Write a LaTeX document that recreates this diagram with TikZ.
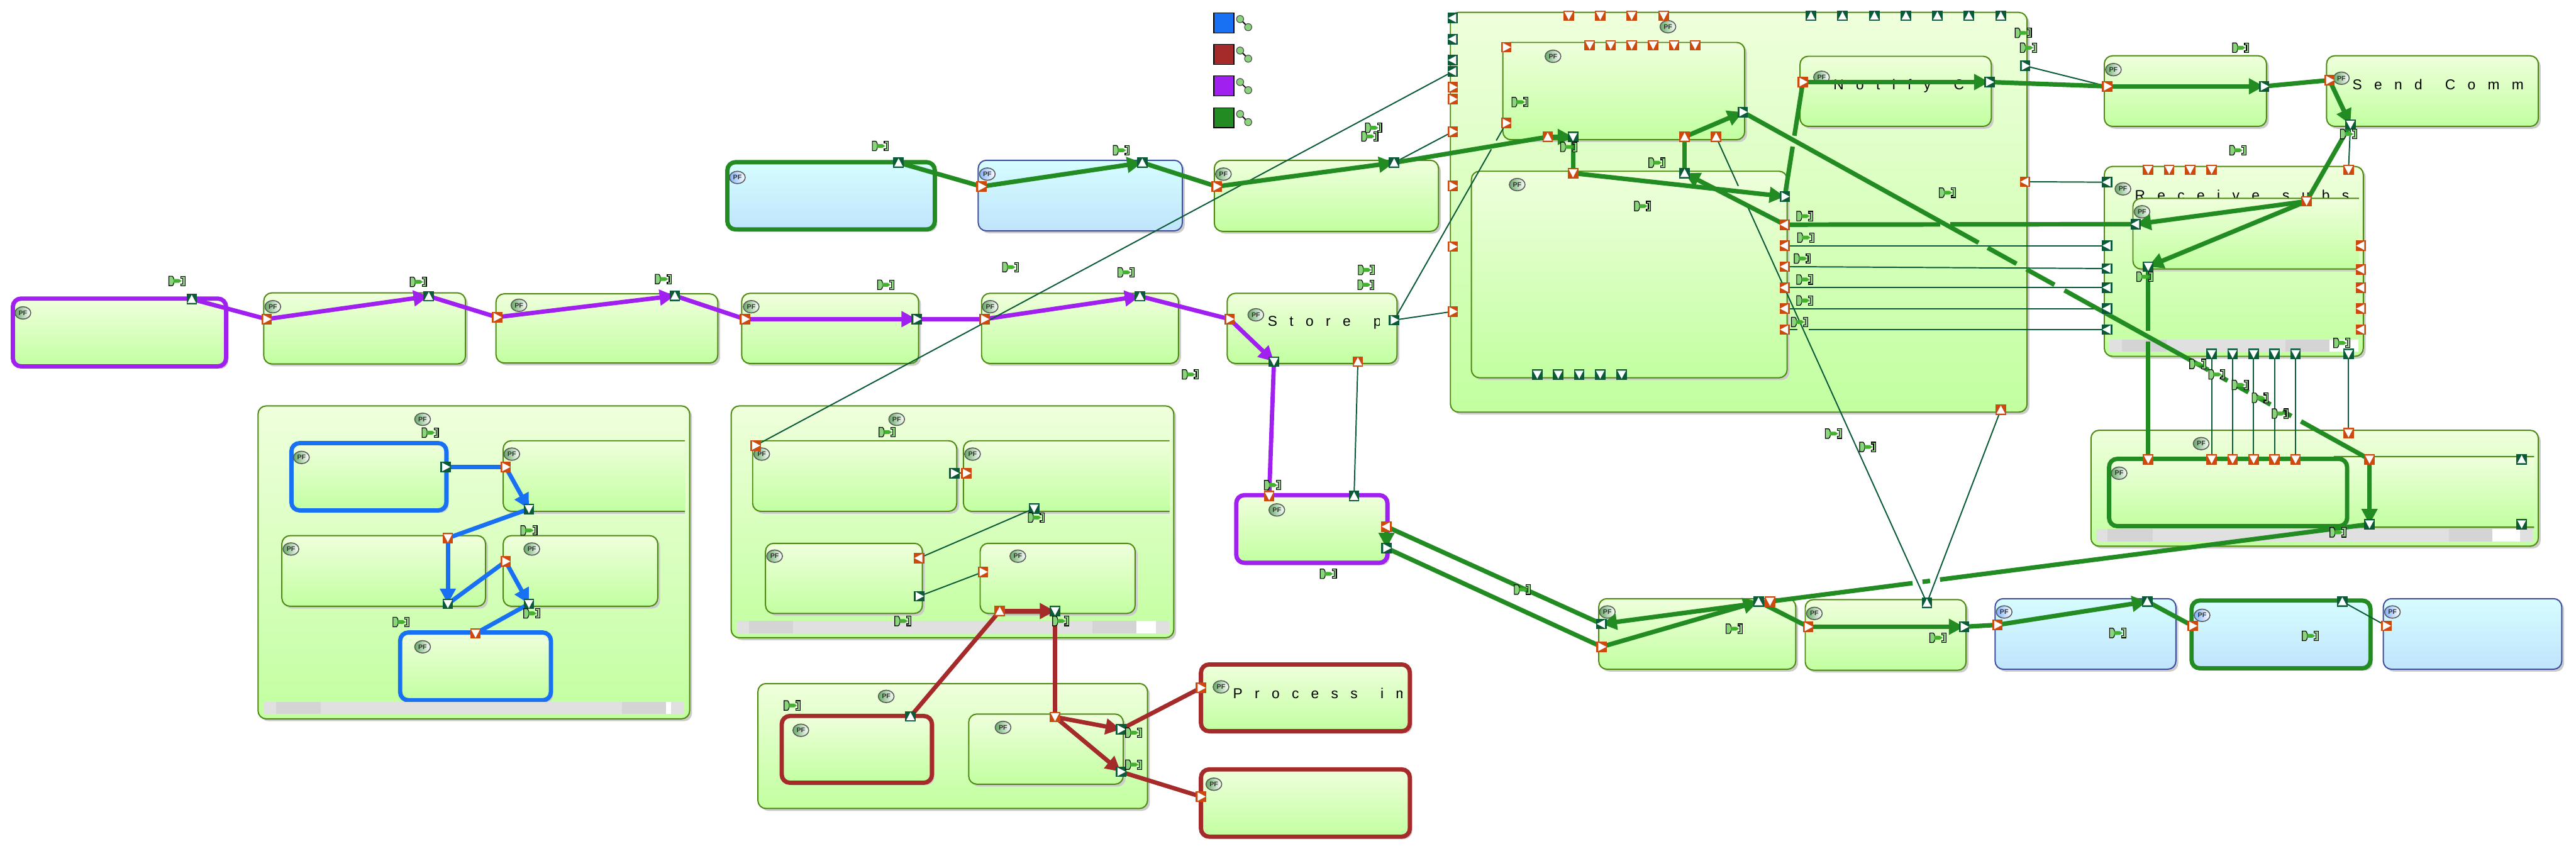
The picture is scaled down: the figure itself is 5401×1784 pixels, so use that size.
\documentclass[tikz,border=0pt]{standalone}
\usepackage{fontspec}
\setmainfont{Liberation Sans}
\newfontfamily\spfont[LetterSpace=85]{Liberation Sans}
\usetikzlibrary{arrows.meta,shadows,shapes.geometric}
\definecolor{cO}{HTML}{CC4A0E}
\definecolor{cG}{HTML}{0B5B38}
\definecolor{thG}{HTML}{228B22}
\definecolor{thB}{HTML}{1871F2}
\definecolor{thP}{HTML}{A020F0}
\definecolor{thR}{HTML}{A52A2A}
\definecolor{gTop}{HTML}{EFFFDC}
\definecolor{gBot}{HTML}{C2FFA0}
\definecolor{gEdge}{HTML}{4E8A12}
\definecolor{bTop}{HTML}{D6FDFF}
\definecolor{bBot}{HTML}{C0E4FC}
\definecolor{bEdge}{HTML}{3F4E9F}
\definecolor{lGreen}{HTML}{8AD47C}
\definecolor{mGreen}{HTML}{44B030}
\pgfdeclarelayer{bg}\pgfdeclarelayer{conn}\pgfsetlayers{bg,conn,main}
\tikzset{
 base/.style={rectangle,rounded corners=17pt,inner sep=0pt,outer sep=0pt,general shadow={fill=black!20,shadow xshift=5pt,shadow yshift=-5pt}},
 gbox/.style={base,top color=gTop,bottom color=gBot,draw=gEdge,line width=2.6pt},
 bbox/.style={base,top color=bTop,bottom color=bBot,draw=bEdge,line width=2.6pt},
 thk/.style={line width=9pt,draw=#1},
 port/.style={rectangle,inner sep=0pt,outer sep=0pt,minimum size=22pt},
 pfg/.style={ellipse,inner sep=0pt,minimum width=33pt,minimum height=26pt,draw=black!65,line width=2pt,left color=#1,right color=white,font=\bfseries\fontsize{14}{14}\selectfont,text=black!80},
 txt/.style={inner sep=0pt,anchor=base west,font=\spfont\fontsize{30}{36}\selectfont},
 leg/.style={rectangle,inner sep=0pt,draw=black,line width=2pt,minimum width=42pt,minimum height=42pt},
 lg/.style={draw=thG,line width=9.5pt},
 lb/.style={draw=thB,line width=9pt},
 lp/.style={draw=thP,line width=9pt},
 lr/.style={draw=thR,line width=9pt},
 lt/.style={draw=cG,line width=2.6pt},
 tip/.style={-{Triangle[length=32pt,width=32pt]}},
 trir/.pic={\fill[white] (-7,-9) -- (-7,9) -- (10,0) -- cycle;},
 tril/.pic={\fill[white] (7,-9) -- (7,9) -- (-10,0) -- cycle;},
 triu/.pic={\fill[white] (-9,8) -- (9,8) -- (0,-9) -- cycle;},
 trid/.pic={\fill[white] (-9,-8) -- (9,-8) -- (0,9) -- cycle;},
 lbl/.pic={
  \filldraw[fill=lGreen,draw=black,line width=1.5pt] (-17,-10) -- (-10,-10) .. controls (-5,-8) and (-5,8) .. (-10,10) -- (-17,10) -- cycle;
  \filldraw[fill=lGreen,draw=black,line width=1.5pt] (8,-10) -- (17,-10) -- (17,10) -- (8,10) -- (8,6) -- (12,6) -- (12,-6) -- (8,-6) -- cycle;
  \fill[mGreen] (-7,-4) -- (4,-4) -- (10,0) -- (4,4) -- (-7,4) -- cycle;},
 lnk/.pic={
  \draw[black,line width=2.5pt] (0,0) -- (17,17);
  \filldraw[fill=lGreen,draw=black!70,line width=1.5pt] (0,0) circle (7.5pt);
  \filldraw[fill=lGreen,draw=black!70,line width=1.5pt] (17,17) circle (7.5pt);},
}
\newcommand\mybox[6]{\pgfmathsetmacro\bw{#4-#2}\pgfmathsetmacro\bh{#5-#3}\node[#6,minimum width=\bw pt,minimum height=\bh pt,anchor=north west] (#1) at (#2,#3) {};}
\newcommand\myport[5]{\node[port,fill=c#4] (#1) at (#2,#3) {};\pic at (#1.center) {tri#5};}
\newcommand\mypf[3]{\node[pfg=green!45!black!60!white] (#1) at (#2,#3) {PF};}
\newcommand\mypb[3]{\node[pfg=blue!60!cyan!50!white] (#1) at (#2,#3) {PF};}
\newcommand\mylab[2]{\pic at (#1,#2) {lbl};}
\newcommand\mybar[9]{\fill[black!12] (#1,#2) rectangle (#3,#4);\fill[black!17] (#5,#2) rectangle (#6,#4);\fill[black!17] (#7,#2) rectangle (#8,#4);\fill[white] (#8,#2) rectangle (#9,#4);}
\newcommand\wgap{\hspace{14pt}}
\begin{document}
\begin{tikzpicture}[x=1pt,y=-1pt]
\useasboundingbox (0,0) rectangle (5401,1784);
\begin{pgfonlayer}{bg}
\fill[white] (0,0) rectangle (5401,1784);
% chain row
\mybox{Ba}{27}{626}{474}{768}{gbox,thk=thP}\mypf{Fa}{48}{656}
\mybox{Bb}{553}{614}{976}{763}{gbox}\mypf{Fb}{572}{643}
\mybox{Bc}{1040}{616}{1505}{761}{gbox}\mypf{Fc}{1088}{640}
\mybox{Bd}{1555}{615}{1926}{762}{gbox}\mypf{Fd}{1575}{643}
\mybox{Be}{2058}{615}{2471}{762}{gbox}\mypf{Fe}{2076}{643}
\mybox{Bf}{2573}{615}{2929}{762}{gbox}\mypf{Ff}{2633}{660}
\begin{scope}\clip (2650,640) rectangle (2892,720);\node[txt] (Tf) at (2658,684) {Store\wgap{} pro};\end{scope}
% top row
\mybox{Bg}{1525}{340}{1960}{481}{bbox,thk=thG}\mypb{Fg}{1546}{372}
\mybox{Bh}{2051}{336}{2479}{484}{bbox}\mypb{Fh}{2070}{365}
\mybox{Bi}{2546}{336}{3016}{485}{gbox}\mypf{Fi}{2565}{365}
% large block
\mybox{Bj}{3041}{26}{4250}{864}{gbox}\mypf{Fj}{3497}{56}
\mybox{Bk}{3151}{89}{3658}{293}{gbox}\mypf{Fk}{3256}{118}
\mybox{Bl}{3085}{359}{3747}{792}{gbox}\mypf{Fl}{3181}{387}
\mybox{Bm}{3774}{118}{4175}{265}{gbox}\mypf{Fm}{3819}{162}
\begin{scope}\clip (3830,150) rectangle (4136,210);\node[txt] (Tm) at (3844,188) {Notify\wgap{} Comm};\end{scope}
% right column
\mybox{Bn}{4412}{117}{4752}{265}{gbox}\mypf{Fn}{4431}{146}
\mybox{Bo}{4878}{117}{5322}{265}{gbox}\mypf{Fo}{4909}{164}
\begin{scope}\clip (4925,150) rectangle (5312,210);\node[txt] (To) at (4932,188) {Send\wgap{} Comms};\end{scope}
\mybox{Bp}{4412}{349}{4955}{747}{gbox}\mypf{Fp}{4451}{396}
\begin{scope}\clip (4470,390) rectangle (4946,440);\node[txt] (Tp) at (4476,420) {Receive\wgap{} subsyst};\end{scope}
\begin{scope}\clip (4460,400) rectangle (4946,580);\mybox{Bq}{4472}{416}{5010}{564}{gbox}\end{scope}
\mypf{Fq}{4491}{444}
\mybar{4423}{712}{4945}{737}{4449}{4542}{4792}{4884}{4945}
\mybox{Br}{4384}{902}{5322}{1145}{gbox}\mypf{Fr}{4615}{930}
\begin{scope}\clip (4893,950) rectangle (5313,1108);\mybox{Bs}{4860}{957}{5400}{1105}{gbox}\end{scope}
\mybox{Bt}{4422}{962}{4921}{1103}{gbox,thk=thG}\mypf{Ft}{4443}{992}
\mybar{4395}{1109}{5310}{1135}{4419}{4513}{5134}{5226}{5283}
% bottom row right
\mybox{Bu}{3352}{1255}{3765}{1403}{gbox}\mypf{Fu}{3370}{1283}
\mybox{Bv}{3785}{1257}{4122}{1405}{gbox}\mypf{Fv}{3804}{1286}
\mybox{Bw}{4183}{1255}{4562}{1403}{bbox}\mypb{Fw}{4202}{1283}
\mybox{Bx}{4595}{1259}{4970}{1401}{bbox,thk=thG}\mypb{Fx}{4617}{1290}
\mybox{By}{4997}{1255}{5371}{1403}{bbox}\mypb{Fy}{5016}{1283}
% centre
\mybox{Bz}{2592}{1038}{2909}{1180}{gbox,thk=thP}\mypf{Fz}{2677}{1069}
\mybox{Ca}{2518}{1393}{2956}{1533}{gbox,thk=thR}\mypf{Ga}{2560}{1440}
\begin{scope}\clip (2575,1430) rectangle (2940,1480);\node[txt] (Ta) at (2585,1464) {Process\wgap{} ima};\end{scope}
\mybox{Cb}{2518}{1613}{2956}{1754}{gbox,thk=thR}\mypf{Gb}{2545}{1644}
% package 2
\mybox{Cc}{1533}{851}{2461}{1337}{gbox}\mypf{Gc}{1880}{879}
\mybox{Cd}{1578}{924}{2006}{1072}{gbox}\mypf{Gd}{1597}{952}
\begin{scope}\clip (2010,915) rectangle (2452,1085);\mybox{Ce}{2020}{924}{2620}{1072}{gbox}\end{scope}
\mypf{Ge}{2039}{952}
\mybox{Cf}{1605}{1139}{1934}{1286}{gbox}\mypf{Gf}{1624}{1166}
\mybox{Cg}{2055}{1139}{2380}{1286}{gbox}\mypf{Gg}{2134}{1166}
\mybar{1545}{1302}{2451}{1328}{1571}{1663}{2291}{2383}{2423}
\mybox{Ch}{1589}{1433}{2406}{1695}{gbox}\mypf{Gh}{1858}{1460}
\mybox{Ci}{1639}{1501}{1954}{1641}{gbox,thk=thR}\mypf{Gi}{1679}{1531}
\mybox{Cj}{2031}{1497}{2355}{1644}{gbox}\mypf{Gj}{2103}{1525}
% package 1
\mybox{Ck}{541}{851}{1446}{1507}{gbox}\mypf{Gk}{886}{879}
\mybox{Cl}{611}{929}{936}{1070}{gbox,thk=thB}\mypf{Gl}{632}{959}
\begin{scope}\clip (1045,915) rectangle (1436,1085);\mybox{Cm}{1055}{924}{1600}{1072}{gbox}\end{scope}
\mypf{Gm}{1073}{952}
\mybox{Cn}{591}{1123}{1018}{1271}{gbox}\mypf{Gn}{610}{1151}
\mybox{Co}{1055}{1123}{1379}{1271}{gbox}\mypf{Go}{1115}{1151}
\mybox{Cp}{839}{1326}{1155}{1468}{gbox,thk=thB}\mypf{Gp}{886}{1356}
\mybar{552}{1471}{1435}{1497}{579}{672}{1304}{1396}{1407}
\end{pgfonlayer}
% legend
\node[leg,fill=thB] (L1) at (2566,48) {};\pic at (2600,40) {lnk};
\node[leg,fill=thR] (L2) at (2566,114) {};\pic at (2600,106) {lnk};
\node[leg,fill=thP] (L3) at (2566,180) {};\pic at (2600,172) {lnk};
\node[leg,fill=thG] (L4) at (2566,247) {};\pic at (2600,239) {lnk};
% ports
\myport{a1}{402}{627}{G}{u}
\myport{b1}{559}{669}{O}{r}\myport{b2}{899}{621}{G}{u}
\myport{c1}{1042}{665}{O}{r}\myport{c2}{1415}{620}{G}{u}
\myport{d1}{1562}{669}{O}{r}\myport{d2}{1922}{669}{G}{r}
\myport{e1}{2064}{669}{O}{r}\myport{e2}{2390}{621}{G}{u}
\myport{f1}{2578}{669}{O}{r}\myport{f2}{2923}{671}{G}{r}\myport{f3}{2671}{758}{G}{d}\myport{f4}{2847}{758}{O}{u}
\myport{g1}{1884}{341}{G}{u}
\myport{h1}{2058}{391}{O}{r}\myport{h2}{2395}{341}{G}{u}
\myport{i1}{2551}{391}{O}{r}\myport{i2}{2923}{341}{G}{u}
% block j
\myport{j1}{3046}{38}{G}{l}\myport{j2}{3046}{82}{G}{l}\myport{j3}{3046}{126}{G}{l}\myport{j4}{3046}{150}{G}{l}
\myport{j5}{3046}{183}{O}{r}\myport{j6}{3046}{208}{O}{r}\myport{j7}{3046}{276}{O}{r}\myport{j8}{3046}{390}{O}{r}\myport{j9}{3046}{517}{O}{r}\myport{j10}{3046}{653}{O}{r}
\myport{jt1}{3289}{33}{O}{d}\myport{jt2}{3355}{33}{O}{d}\myport{jt3}{3421}{33}{O}{d}\myport{jt4}{3488}{33}{O}{d}
\myport{ju1}{3797}{33}{G}{u}\myport{ju2}{3863}{33}{G}{u}\myport{ju3}{3930}{33}{G}{u}\myport{ju4}{3996}{33}{G}{u}\myport{ju5}{4062}{33}{G}{u}\myport{ju6}{4128}{33}{G}{u}\myport{ju7}{4195}{33}{G}{u}
\myport{jr1}{4246}{138}{G}{r}\myport{jr2}{4246}{381}{O}{l}\myport{jb1}{4195}{859}{O}{u}
% block k
\myport{k1}{3158}{99}{O}{r}\myport{k2}{3158}{258}{O}{r}
\myport{kt1}{3333}{95}{O}{d}\myport{kt2}{3377}{95}{O}{d}\myport{kt3}{3421}{95}{O}{d}\myport{kt4}{3466}{95}{O}{d}\myport{kt5}{3510}{95}{O}{d}\myport{kt6}{3554}{95}{O}{d}
\myport{kb1}{3245}{287}{O}{u}\myport{kb2}{3298}{287}{G}{d}\myport{kb3}{3532}{287}{O}{u}\myport{kb4}{3598}{287}{O}{u}\myport{kr}{3654}{235}{G}{r}
% block l
\myport{l1}{3298}{363}{O}{d}\myport{l2}{3532}{363}{G}{u}\myport{lg1}{3742}{412}{G}{r}
\myport{lo1}{3742}{471}{O}{l}\myport{lo2}{3742}{515}{O}{l}\myport{lo3}{3742}{559}{O}{l}\myport{lo4}{3742}{603}{O}{l}\myport{lo5}{3742}{647}{O}{l}\myport{lo6}{3742}{691}{O}{l}
\myport{ld1}{3223}{785}{G}{d}\myport{ld2}{3267}{785}{G}{d}\myport{ld3}{3311}{785}{G}{d}\myport{ld4}{3355}{785}{G}{d}\myport{ld5}{3400}{785}{G}{d}
% m n o
\myport{m1}{3780}{172}{O}{r}\myport{m2}{4171}{172}{G}{r}
\myport{n1}{4418}{181}{O}{r}\myport{n2}{4747}{181}{G}{r}
\myport{o1}{4884}{168}{O}{r}\myport{o2}{4928}{261}{G}{d}
% block p
\myport{pt1}{4504}{356}{O}{d}\myport{pt2}{4548}{356}{O}{d}\myport{pt3}{4592}{356}{O}{d}\myport{pt4}{4637}{356}{O}{d}\myport{pt5}{4924}{356}{O}{d}
\myport{pl0}{4418}{382}{G}{l}\myport{pl1}{4418}{515}{G}{l}\myport{pl2}{4418}{563}{G}{l}\myport{pl3}{4418}{603}{G}{l}\myport{pl4}{4418}{647}{G}{l}\myport{pl5}{4418}{691}{G}{l}
\myport{pr1}{4950}{515}{O}{l}\myport{pr2}{4950}{565}{O}{l}\myport{pr3}{4950}{603}{O}{l}\myport{pr4}{4950}{647}{O}{l}\myport{pr5}{4950}{691}{O}{l}
\myport{pb1}{4637}{742}{G}{d}\myport{pb2}{4681}{742}{G}{d}\myport{pb3}{4725}{742}{G}{d}\myport{pb4}{4769}{742}{G}{d}\myport{pb5}{4813}{742}{G}{d}\myport{pb6}{4924}{742}{G}{d}
\myport{q1}{4836}{422}{O}{d}\myport{q2}{4478}{470}{G}{l}\myport{q3}{4504}{559}{G}{d}
% block r
\myport{r0}{4924}{908}{O}{d}
\myport{r1}{4504}{963}{O}{d}\myport{r2}{4637}{963}{O}{d}\myport{r3}{4681}{963}{O}{d}\myport{r4}{4725}{963}{O}{d}\myport{r5}{4769}{963}{O}{d}\myport{r6}{4813}{963}{O}{d}\myport{r7}{4968}{963}{O}{d}
\myport{r8}{5287}{963}{G}{u}\myport{r9}{4968}{1099}{G}{d}\myport{r10}{5287}{1099}{G}{d}
% bottom row
\myport{u1}{3358}{1308}{G}{l}\myport{u2}{3358}{1356}{O}{r}\myport{u3}{3687}{1261}{G}{u}\myport{u4}{3711}{1261}{O}{d}
\myport{v1}{3791}{1314}{O}{r}\myport{v2}{4118}{1314}{G}{r}\myport{v3}{4040}{1264}{G}{u}
\myport{w1}{4188}{1310}{O}{r}\myport{w2}{4502}{1261}{G}{u}
\myport{x1}{4597}{1312}{O}{r}\myport{x2}{4911}{1261}{G}{u}
\myport{y1}{5003}{1312}{O}{r}
\myport{z1}{2661}{1040}{O}{d}\myport{z2}{2839}{1040}{G}{u}\myport{z3}{2907}{1104}{O}{l}\myport{z4}{2907}{1149}{G}{r}
\myport{ca}{2518}{1442}{O}{r}\myport{cb}{2518}{1670}{O}{r}
% package 2
\myport{d21}{1584}{934}{O}{r}\myport{d22}{2001}{992}{G}{r}
\myport{e21}{2026}{992}{O}{r}\myport{e22}{2168}{1066}{G}{d}
\myport{f21}{1927}{1170}{O}{l}\myport{f22}{1927}{1250}{G}{r}
\myport{g21}{2061}{1199}{O}{r}\myport{g22}{2096}{1281}{O}{u}\myport{g23}{2212}{1281}{G}{d}
\myport{i21}{1909}{1502}{G}{u}
\myport{j21}{2212}{1503}{O}{d}\myport{j22}{2350}{1529}{G}{r}\myport{j23}{2350}{1618}{G}{r}
% package 1
\myport{l11}{934}{979}{G}{r}
\myport{m11}{1060}{979}{O}{r}\myport{m12}{1109}{1067}{G}{d}
\myport{n11}{939}{1128}{O}{d}\myport{n12}{939}{1266}{G}{d}
\myport{o11}{1060}{1177}{O}{r}\myport{o12}{1109}{1266}{G}{d}
\myport{p11}{997}{1328}{O}{d}
% labels
\mylab{371}{589}\mylab{877}{591}\mylab{1391}{585}\mylab{1857}{597}\mylab{2119}{560}\mylab{2361}{571}\mylab{2496}{785}
\mylab{1846}{306}\mylab{2351}{315}\mylab{2880}{268}\mylab{2872}{286}\mylab{2865}{566}\mylab{2864}{597}
\mylab{4242}{69}\mylab{4253}{100}\mylab{4083}{404}\mylab{3187}{214}\mylab{3289}{308}\mylab{3474}{341}\mylab{3444}{432}
\mylab{3784}{453}\mylab{3786}{498}\mylab{3779}{542}\mylab{3784}{586}\mylab{3784}{630}\mylab{3773}{675}
\mylab{3844}{909}\mylab{3916}{937}
\mylab{4698}{100}\mylab{4692}{315}\mylab{4924}{281}\mylab{4497}{580}\mylab{4910}{719}
\mylab{4608}{763}\mylab{4648}{785}\mylab{4697}{807}\mylab{4739}{834}\mylab{4781}{867}\mylab{4902}{1116}
\mylab{4440}{1327}\mylab{4844}{1333}\mylab{3636}{1318}\mylab{4063}{1337}\mylab{2668}{1017}\mylab{2785}{1203}\mylab{3192}{1236}
\mylab{1860}{906}\mylab{2173}{1085}\mylab{1893}{1302}\mylab{2224}{1302}\mylab{1661}{1479}\mylab{2377}{1536}\mylab{2377}{1603}
\mylab{902}{907}\mylab{1109}{1112}\mylab{1115}{1286}\mylab{841}{1304}
% connectors
\begin{pgfonlayer}{conn}
% purple
\draw[lp] (a1.center) -- (b1.center);
\draw[lp,tip] (b1.center) -- (b2.center);
\draw[lp] (b2.center) -- (c1.center);
\draw[lp,tip] (c1.center) -- (c2.center);
\draw[lp] (c2.center) -- (d1.center);
\draw[lp,tip] (d1.center) -- (d2.center);
\draw[lp] (d2.center) -- (e1.center);
\draw[lp,tip] (e1.center) -- (e2.center);
\draw[lp] (e2.center) -- (f1.center);
\draw[lp,tip] (f1.center) -- (f3.center);
\draw[lp] (f3.center) -- (z1.center);
% blue
\draw[lb] (l11.center) -- (m11.center);
\draw[lb,tip] (m11.center) -- (m12.center);
\draw[lb] (m12.center) -- (n11.center);
\draw[lb,tip] (n11.center) -- (n12.center);
\draw[lb] (n12.center) -- (o11.center);
\draw[lb,tip] (o11.center) -- (o12.center);
\draw[lb] (o12.center) -- (p11.center);
% brown
\draw[lr] (i21.center) -- (g22.center);
\draw[lr,tip] (g22.center) -- (g23.center);
\draw[lr] (g23.center) -- (j21.center);
\draw[lr,tip] (j21.center) -- (j22.center);
\draw[lr] (j22.center) -- (ca.center);
\draw[lr,tip] (j21.center) -- (j23.center);
\draw[lr] (j23.center) -- (cb.center);
% thin
\draw[lt] (d21.center) -- (j4.center);
\draw[lt] (d22.center) -- (e21.center);
\draw[lt] (e22.center) -- (f21.center);
\draw[lt] (f22.center) -- (g21.center);
\draw[lt] (i2.center) -- (j7.center);
\draw[lt] (f2.center) -- (j10.center);
\draw[lt,dash pattern=on 412pt off 21pt on 200pt off 0pt] (f2.center) -- (k2.center);
\draw[lt] (f4.center) -- (z2.center);
\draw[lt,dash pattern=on 113pt off 50pt on 2000pt off 0pt] (kb4.center) -- (v3.center);
\draw[lt] (jb1.center) -- (v3.center);
\draw[lt] (lo2.center) -- (pl1.center);
\draw[lt] (lo3.center) -- (pl2.center);
\draw[lt] (lo4.center) -- (pl3.center);
\draw[lt] (lo5.center) -- (pl4.center);
\draw[lt,dash pattern=on 27pt off 23pt on 2000pt off 0pt] (lo6.center) -- (pl5.center);
\draw[lt] (jr1.center) -- (n1.center);
\draw[lt] (jr2.center) -- (pl0.center);
\draw[lt] (o2.center) -- (pt5.center);
\draw[lt] (pb6.center) -- (r0.center);
\draw[lt] (pb1.center) -- (r2.center);
\draw[lt] (pb2.center) -- (r3.center);
\draw[lt] (pb3.center) -- (r4.center);
\draw[lt] (pb4.center) -- (r5.center);
\draw[lt] (pb5.center) -- (r6.center);
\draw[lt] (x2.center) -- (y1.center);
% green
\draw[lg] (g1.center) -- (h1.center);
\draw[lg,tip] (h1.center) -- (h2.center);
\draw[lg] (h2.center) -- (i1.center);
\draw[lg,tip] (i1.center) -- (i2.center);
\draw[lg] (i2.center) -- (kb1.center);
\draw[lg,tip] (kb1.center) -- (kb2.center);
\draw[lg] (kb2.center) -- (l1.center);
\draw[lg,tip] (l1.center) -- (lg1.center);
\draw[lg,dash pattern=on 106pt off 23pt on 500pt off 0pt] (lg1.center) -- (m1.center);
\draw[lg,tip] (m1.center) -- (m2.center);
\draw[lg] (m2.center) -- (n1.center);
\draw[lg,tip] (n1.center) -- (n2.center);
\draw[lg] (n2.center) -- (o1.center);
\draw[lg,tip] (o1.center) -- (o2.center);
\draw[lg] (o2.center) -- (q1.center);
\draw[lg,tip] (q1.center) -- (q2.center);
\draw[lg,tip] (q1.center) -- (q3.center);
\draw[lg,dash pattern=on 135pt off 22pt on 500pt off 0pt] (q3.center) -- (r1.center);
\draw[lg,dash pattern=on 389pt off 21pt on 1000pt off 0pt] (q2.center) -- (lo1.center);
\draw[lg,tip] (lo1.center) -- (l2.center);
\draw[lg] (l2.center) -- (kb3.center);
\draw[lg,tip] (kb3.center) -- (kr.center);
\draw[lg,dash pattern=on 565pt off 22pt on 69pt off 24pt on 67pt off 24pt on 345pt off 29pt on 17pt off 15pt on 35pt off 13pt on 40pt off 29pt on 21pt off 23pt on 500pt off 0pt] (kr.center) -- (r7.center);
\draw[lg,tip] (r7.center) -- (r9.center);
\draw[lg,dash pattern=on 908pt off 21pt on 16pt off 21pt on 1000pt off 0pt] (r9.center) -- (u4.center);
\draw[lg,tip] (u4.center) -- (u1.center);
\draw[lg] (u1.center) -- (z3.center);
\draw[lg,tip] (z3.center) -- (z4.center);
\draw[lg] (z4.center) -- (u2.center);
\draw[lg,tip] (u2.center) -- (u3.center);
\draw[lg] (u3.center) -- (v1.center);
\draw[lg,tip] (v1.center) -- (v2.center);
\draw[lg] (v2.center) -- (w1.center);
\draw[lg,tip] (w1.center) -- (w2.center);
\draw[lg] (w2.center) -- (x1.center);
\end{pgfonlayer}
\end{tikzpicture}
\end{document}
